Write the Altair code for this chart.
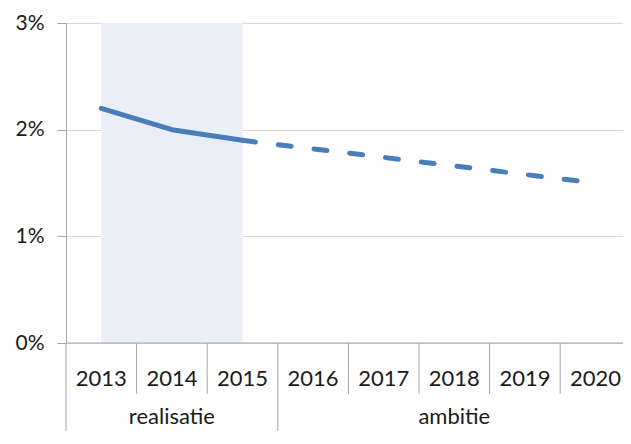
import altair as alt
import pandas as pd

years = ["2013", "2014", "2015", "2016", "2017", "2018", "2019", "2020"]
values = [2.2, 2.0, 1.9, 1.82, 1.74, 1.66, 1.58, 1.5]
phases = ["realisatie", "realisatie", "realisatie", "ambitie", "ambitie", "ambitie", "ambitie", "ambitie"]
groups = ["realisatie", "ambitie"]
y_ticks = [0, 1, 2, 3]

W, H = 557, 320
STEP = 70.6
FONT = "Lato"
AXIS_GRAY = "#A6A6A6"
BLUE = "#4A7EBB"
PAD_TOP = 15
PAD_BOTTOM = 88

pos = [i + 0.5 for i in range(len(years))]
df = pd.DataFrame({"year": years, "value": values, "phase": phases, "pos": pos})

last_real = max(i for i, p in enumerate(phases) if p == "realisatie")
solid = df.iloc[: last_real + 1]
dashed = df.iloc[last_real:]

grp_rows = []
for g in groups:
    idx = [i for i, p in enumerate(phases) if p == g]
    grp_rows.append({"group": g, "start": idx[0], "end": idx[-1] + 1, "mid": (idx[0] + idx[-1] + 1) / 2})
grp = pd.DataFrame(grp_rows)

group_starts = set(grp["start"])
sep = pd.DataFrame({
    "x": list(range(len(years))),
    "long": [i in group_starts for i in range(len(years))],
})
sep_short = sep[~sep["long"]]
sep_long = sep[sep["long"]]

xscale = alt.Scale(domain=[0, W / STEP], nice=False, zero=False)
X = lambda f: alt.X(f, type="quantitative", scale=xscale, axis=None)
yscale = alt.Scale(domain=[0, 3], nice=False)

band = alt.Chart(grp[grp["group"] == "realisatie"]).mark_rect(color="#EAEFF7").encode(
    x=alt.X("p0:Q", scale=xscale, axis=None),
    x2="p1:Q",
    y=alt.Y("y0:Q", scale=yscale,
            axis=alt.Axis(values=y_ticks, labelExpr="datum.value + '%'", title=None,
                          grid=True, gridColor="#D9D9D9", gridWidth=1,
                          domainColor=AXIS_GRAY, tickColor=AXIS_GRAY, tickSize=9,
                          labelFont=FONT, labelFontSize=21, labelColor="#1a1a1a",
                          labelPadding=13)),
    y2="y1:Q",
).transform_calculate(p0="0.5", p1=f"{last_real + 0.5}", y0="0", y1="3")

zero_rule = alt.Chart(pd.DataFrame({"v": [0]})).mark_rule(color=AXIS_GRAY, strokeWidth=1).encode(
    y=alt.Y("v:Q", scale=yscale), x=alt.value(0), x2=alt.value(W)
)

short_rules = alt.Chart(sep_short).mark_rule(color=AXIS_GRAY, strokeWidth=1).encode(
    x=X("x"), y=alt.value(H), y2=alt.value(H + 51)
)
long_rules = alt.Chart(sep_long).mark_rule(color=AXIS_GRAY, strokeWidth=1).encode(
    x=X("x"), y=alt.value(H), y2=alt.value(H + PAD_BOTTOM)
)

year_text = alt.Chart(df).mark_text(font=FONT, fontSize=22, color="#1a1a1a", baseline="alphabetic").encode(
    x=X("pos"), y=alt.value(H + 43), text="year:N"
)
group_text = alt.Chart(grp).mark_text(font=FONT, fontSize=22, color="#1a1a1a", baseline="alphabetic").encode(
    x=X("mid"), y=alt.value(H + 81), text="group:N"
)

line_solid = alt.Chart(solid).mark_line(color=BLUE, strokeWidth=5, strokeCap="round", strokeJoin="round").encode(
    x=X("pos"), y=alt.Y("value:Q", scale=yscale)
)
line_dash = alt.Chart(dashed).mark_line(color=BLUE, strokeWidth=5, strokeCap="round",
                                         strokeDash=[13, 23]).encode(
    x=X("pos"), y=alt.Y("value:Q", scale=yscale)
)

chart = alt.layer(
    band, zero_rule, short_rules, long_rules, year_text, group_text, line_solid, line_dash
).properties(
    width=W, height=H,
    autosize=alt.AutoSizeParams(type="none"),
    padding={"left": 58, "top": PAD_TOP, "right": 0, "bottom": PAD_BOTTOM},
).configure_view(stroke=None).configure(background="white")

chart.save("out.html", embed_options={"renderer": "svg", "actions": False})
